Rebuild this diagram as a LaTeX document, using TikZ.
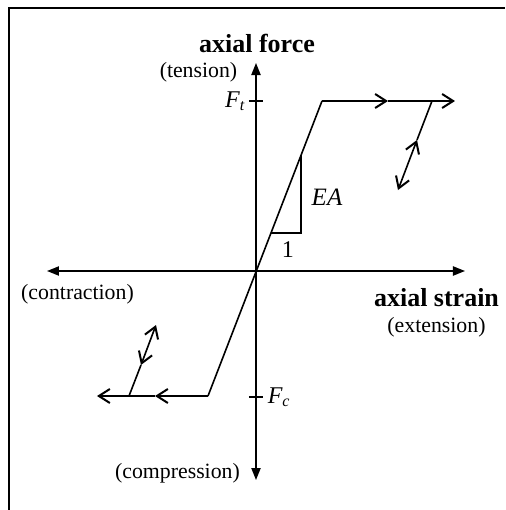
\documentclass[tikz,border=0pt]{standalone}
\usepackage{fontspec}
\setmainfont{Liberation Serif}
\usetikzlibrary{arrows.meta}

\begin{document}
\begin{tikzpicture}[
  x=0.5pt, y=0.5pt,
  line width=0.8pt,
  axis/.style={{Triangle[length=6pt,width=4.6pt]}-{Triangle[length=6pt,width=4.6pt]}},
  barb/.style={-{Straight Barb[length=5.5pt,width=7pt,line width=1pt]}},
  dbarb/.style={{Straight Barb[length=5.5pt,width=7pt,line width=1pt]}-{Straight Barb[length=5.5pt,width=7pt,line width=1pt]}},
  ttl/.style={font=\fontsize{13}{15}\selectfont\bfseries, inner sep=0pt},
  dir/.style={font=\fontsize{10.9}{13}\selectfont, inner sep=0pt},
  sym/.style={font=\fontsize{12.5}{15}\selectfont\itshape, inner sep=0pt}
]
\useasboundingbox (-256,-239) rectangle (249,271);
% frame (open at right and bottom)
\draw (-247,-239) -- (-247,263) -- (249,263);

% axes
\coordinate (O) at (0,0);
\draw[axis] (0,-209) coordinate (fbot) -- (0,208) coordinate (ftop);
\draw[axis] (-209,0) coordinate (sleft) -- (209,0) coordinate (sright);

% yield levels
\coordinate (Ft) at (0,170);
\coordinate (Fc) at (0,-126);
\draw (-7,170) -- (7,170);
\draw (-7,-126) -- (7,-126);

% elastic branch and plateaus
\coordinate (yt) at (66,170);
\coordinate (yc) at (-48,-125);
\draw (yc) -- (yt);
\draw[barb] (yt) -- (132,170) coordinate (pt1);
\draw[barb] (pt1) -- (199,170) coordinate (pt2);
\draw[barb] (yc) -- (-101,-125) coordinate (pc1);
\draw[barb] (pc1) -- (-159,-125) coordinate (pc2);

% unloading / reloading
\coordinate (u1) at (176,170);
\coordinate (u2) at (161,131);
\coordinate (u3) at (142,81);
\draw (u1) -- (u2);
\draw[dbarb] (u3) -- (u2);
\coordinate (l1) at (-127,-125);
\coordinate (l2) at (-115,-94);
\coordinate (l3) at (-100,-54);
\draw (l1) -- (l2);
\draw[dbarb] (l2) -- (l3);

% slope triangle
\draw (45,116) coordinate (s1) -- (45,38) coordinate (s2) -- (15,38) coordinate (s3);

% labels
\node[ttl] (force) at (1,228) {axial force};
\node[dir] (tens) at (-57.5,199) {(tension)};
\node[dir] (contr) at (-178.5,-23) {(contraction)};
\node[ttl] (strain) at (180.5,-27) {axial strain};
\node[dir] (ext) at (180.5,-56) {(extension)};
\node[dir] (comp) at (-78.5,-202) {(compression)};
\node[sym, font=\fontsize{12}{14}\selectfont\itshape, anchor=base east] (lFt) at (-10,164) {F\textsubscript{t}};
\node[sym, font=\fontsize{12}{14}\selectfont\itshape, anchor=base west] (lFc) at (11,-132) {F\textsubscript{c}};
\node[sym] (lEA) at (71,74) {EA};
\node[dir, font=\fontsize{12}{14}\selectfont] (one) at (32,21) {1};
\end{tikzpicture}
\end{document}
